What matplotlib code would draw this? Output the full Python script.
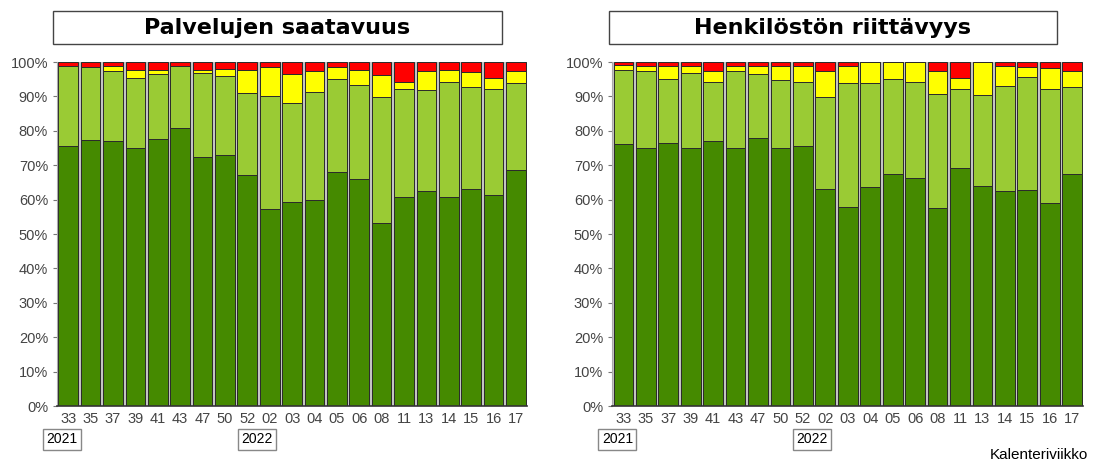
import matplotlib.pyplot as plt
import matplotlib.patches as patches
import numpy as np

plt.rcParams['font.family'] = ['Liberation Sans', 'DejaVu Sans']

# viikot (x-akselin tunnukset)
viikot = ["33", "35", "37", "39", "41", "43", "47", "50", "52", "02", "03",
          "04", "05", "06", "08", "11", "13", "14", "15", "16", "17"]
vuodet = [("2021", 0), ("2022", 9)]

# Palvelujen saatavuus, osuudet % (tumma vihreä, vaalea vihreä, keltainen, punainen)
pal_tumma = [75.5, 77.4, 77.0, 75.1, 77.5, 80.8, 72.5, 73.1, 67.2, 57.3, 59.2,
             59.8, 68.0, 66.1, 53.3, 60.8, 62.4, 60.7, 63.2, 61.3, 68.5]
pal_vaalea = [23.3, 21.3, 20.5, 20.2, 19.1, 18.0, 24.2, 22.8, 23.8, 32.7, 28.8,
              31.4, 27.1, 27.3, 36.5, 31.4, 29.5, 33.6, 29.6, 31.0, 25.5]
pal_keltainen = [0.0, 0.0, 1.3, 2.4, 1.1, 0.0, 1.0, 2.0, 6.7, 8.7, 8.5,
                 6.3, 3.6, 4.3, 6.4, 2.1, 5.6, 3.3, 4.4, 3.1, 3.5]
pal_punainen = [1.2, 1.3, 1.2, 2.3, 2.3, 1.2, 2.3, 2.1, 2.3, 1.3, 3.5,
                2.5, 1.3, 2.3, 3.8, 5.7, 2.5, 2.4, 2.8, 4.6, 2.5]

# Henkilöstön riittävyys
hen_tumma = [76.3, 75.1, 76.4, 74.9, 77.0, 74.9, 77.9, 74.9, 75.6, 63.0, 58.0,
             63.8, 67.6, 66.4, 57.5, 69.3, 64.0, 62.5, 62.8, 59.0, 67.5]
hen_vaalea = [21.5, 22.4, 18.7, 21.8, 17.1, 22.6, 18.6, 19.9, 18.6, 26.8, 35.9,
              30.0, 27.5, 27.9, 33.3, 22.8, 26.5, 30.5, 32.8, 33.2, 25.3]
hen_keltainen = [1.2, 1.3, 3.7, 2.1, 3.4, 1.4, 2.3, 4.0, 4.6, 7.7, 4.9,
                 6.2, 4.9, 5.7, 6.6, 3.3, 9.5, 5.8, 2.9, 6.1, 4.7]
hen_punainen = [1.0, 1.2, 1.2, 1.2, 2.5, 1.1, 1.2, 1.2, 1.2, 2.5, 1.2,
                0.0, 0.0, 0.0, 2.6, 4.6, 0.0, 1.2, 1.5, 1.7, 2.5]

varit = ["#458a00", "#9acb34", "#ffff00", "#ff0000"]
vuosi_siirto = [-6, -13]  # vuosilaatikoiden siirto pikseleinä


def piirra(ax, sarjat, otsikko, laatikko):
    x = np.arange(len(viikot))
    pohja = np.zeros(len(viikot))
    for arvot, vari in zip(sarjat, varit):
        arvot = np.array(arvot)
        ax.bar(x, arvot, bottom=pohja, width=0.88, color=vari,
               edgecolor="#2a2a2a", linewidth=0.7)
        pohja += arvot

    ax.set_facecolor("#c4c4c4")
    ax.set_xlim(-0.5, len(viikot) - 0.5)
    ax.set_ylim(0, 100)
    ax.set_yticks(np.arange(0, 101, 10))
    ax.set_yticklabels([f"{v}%" for v in range(0, 101, 10)])
    ax.set_xticks(x)
    ax.set_xticklabels(viikot)
    ax.tick_params(axis="both", colors="#777777", labelcolor="#444444",
                   labelsize=10.5, length=3)
    ax.tick_params(axis="x", length=0, pad=4)
    for s in ["top", "right"]:
        ax.spines[s].set_visible(False)
    ax.spines["left"].set_color("#aaaaaa")
    ax.spines["bottom"].set_color("#333333")
    ax.spines["bottom"].set_linewidth(1.2)

    # vuosilaatikot
    for (vuosi, i), siirto in zip(vuodet, vuosi_siirto):
        ax.annotate(vuosi, xy=(i, 0), xycoords=("data", "axes fraction"),
                    xytext=(siirto, -33), textcoords="offset pixels",
                    ha="center", va="center", fontsize=10, color="black",
                    bbox=dict(boxstyle="square,pad=0.25", fc="white",
                              ec="#888888", lw=1))

    # otsikko laatikossa
    x0, x1 = laatikko
    fig.add_artist(patches.Rectangle((x0 / 1101, 1 - 44 / 470),
                                     (x1 - x0) / 1101, 33 / 470,
                                     transform=fig.transFigure, fc="white",
                                     ec="#444444", lw=1))
    fig.text((x0 + x1) / 2 / 1101, 1 - 27.5 / 470, otsikko, ha="center",
             va="center", fontsize=16, fontweight="bold", family="DejaVu Sans")


fig = plt.figure(figsize=(11.01, 4.70), dpi=100)
ax1 = fig.add_axes([0.0518, 0.136, 0.427, 0.732])
ax2 = fig.add_axes([0.556, 0.136, 0.428, 0.732])

piirra(ax1, [pal_tumma, pal_vaalea, pal_keltainen, pal_punainen],
       "Palvelujen saatavuus", (53, 502))
piirra(ax2, [hen_tumma, hen_vaalea, hen_keltainen, hen_punainen],
       "Henkilöstön riittävyys", (609, 1057))

fig.text(0.988, 0.018, "Kalenteriviikko", ha="right", va="bottom",
         fontsize=11, color="black")

fig.savefig("out.png", dpi=100)
